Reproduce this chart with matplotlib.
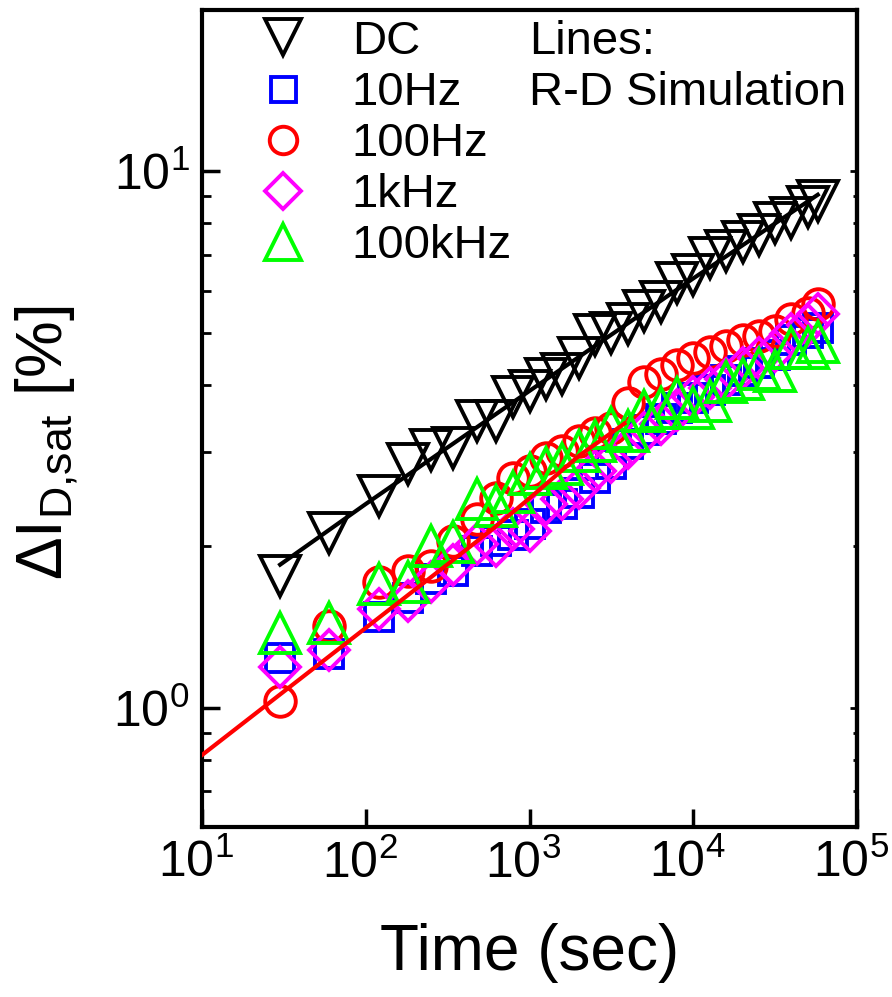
import math
import matplotlib
matplotlib.use("Agg")
import matplotlib.pyplot as plt
import matplotlib.transforms as mtransforms
from matplotlib.ticker import LogLocator, FixedLocator, NullFormatter, FuncFormatter

# time grid of the measurements (sec)
time_s = [30, 60, 120, 180, 250, 340, 480, 620, 790, 1000, 1260, 1580, 2000, 2500,
          3160, 3980, 5010, 6310, 7940, 10000, 12600, 15800, 20000, 25100, 31600,
          39800, 50100, 57600]

dc = [1.76, 2.12, 2.48, 2.85, 3.03, 3.05, 3.42, 3.42, 3.80, 3.90, 4.10, 4.20, 4.50, 4.95,
      5.00, 5.20, 5.50, 5.70, 6.20, 6.40, 6.90, 7.10, 7.40, 7.60, 8.00, 8.20, 8.60, 8.80]
hz10 = [1.24, 1.26, 1.48, 1.60, 1.74, 1.80, 1.96, 2.05, 2.10, 2.20, 2.36, 2.40, 2.52, 2.68,
        2.85, 3.10, 3.30, 3.45, 3.62, 3.78, 3.92, 4.08, 4.25, 4.40, 4.55, 4.85, 5.00, 5.10]
hz100 = [1.03, 1.42, 1.72, 1.80, 1.84, 2.05, 2.25, 2.46, 2.68, 2.76, 2.92, 3.01, 3.15, 3.26,
         3.32, 3.70, 4.06, 4.20, 4.35, 4.50, 4.60, 4.72, 4.85, 4.94, 5.04, 5.32, 5.45, 5.66]
khz1 = [1.19, 1.28, 1.53, 1.58, 1.72, 1.85, 2.02, 2.00, 2.16, 2.14, 2.40, 2.45, 2.57, 2.76,
        2.88, 3.05, 3.25, 3.38, 3.60, 3.80, 3.95, 4.10, 4.30, 4.49, 4.63, 4.97, 5.18, 5.43]
khz100 = [1.38, 1.44, 1.70, 1.72, 2.00, 2.04, 2.45, 2.38, 2.53, 2.73, 2.80, 2.85, 3.01, 3.15,
          3.32, 3.28, 3.57, 3.62, 3.78, 3.62, 3.73, 4.06, 4.11, 4.29, 4.24, 4.68, 4.68, 4.82]

# R-D simulation lines
sim_dc_t = [30, 100, 1000, 10000, 57600]
sim_dc_y = [1.85, 2.40, 3.90, 6.32, 9.05]
sim_ac_t = [10, 30, 100, 300, 600, 1000, 2000, 3800]
sim_ac_y = [0.817, 1.06, 1.41, 1.83, 2.16, 2.46, 2.95, 3.39]

plt.rcParams["font.family"] = ["Liberation Sans", "DejaVu Sans"]

fig = plt.figure(figsize=(8.92, 9.97), dpi=100)
ax = fig.add_axes([202 / 892, 170 / 997, 655 / 892, 817 / 997])

mk = dict(linestyle="none", markerfacecolor="none", markeredgewidth=2.8)
ax.plot(time_s, dc, marker="v", color="black", markersize=29, label="DC", **mk)
ax.plot(time_s, hz10, marker="s", color="#0000ff", markersize=20, label="10Hz", **mk)
ax.plot(time_s, hz100, marker="o", color="#ff0000", markersize=22, label="100Hz", **mk)
ax.plot(time_s, khz1, marker="D", color="#ff00ff", markersize=20, label="1kHz", **mk)
ax.plot(time_s, khz100, marker="^", color="#00ff00", markersize=29, label="100kHz", **mk)

ax.plot(sim_dc_t, sim_dc_y, color="black", linewidth=3, zorder=5)
ax.plot(sim_ac_t, sim_ac_y, color="#ff0000", linewidth=3, zorder=5)

ax.set_xscale("log")
ax.set_yscale("log")
ax.set_xlim(10, 1e5)
ax.set_ylim(0.6, 20)

ax.xaxis.set_major_locator(FixedLocator([1e1, 1e2, 1e3, 1e4, 1e5]))
ax.xaxis.set_minor_locator(LogLocator(base=10, subs=range(2, 10)))
ax.yaxis.set_major_locator(FixedLocator([1, 10]))
ax.yaxis.set_minor_locator(LogLocator(base=10, subs=range(2, 10)))
ax.xaxis.set_minor_formatter(NullFormatter())
ax.yaxis.set_minor_formatter(NullFormatter())


def powfmt(v, pos):
    return r"$\mathregular{10^{%d}}$" % int(round(math.log10(v)))


ax.xaxis.set_major_formatter(FuncFormatter(powfmt))
ax.yaxis.set_major_formatter(FuncFormatter(powfmt))

for s in ax.spines.values():
    s.set_linewidth(3)
ax.tick_params(which="major", direction="in", length=13, width=2.5, pad=9, labelsize=36)
ax.tick_params(which="minor", direction="in", length=6.5, width=2)
ax.tick_params(top=False, right=False)

# x tick labels sit a little left of their ticks
shift = mtransforms.ScaledTranslation(-6 / 100, 0, fig.dpi_scale_trans)
for lab in ax.get_xticklabels():
    lab.set_transform(lab.get_transform() + shift)

sec = ax.secondary_yaxis("right")
sec.tick_params(which="major", direction="in", length=5, width=2, labelright=False)
sec.tick_params(which="minor", direction="in", length=3, width=2)
sec.spines["right"].set_linewidth(3)

ax.set_xlabel("Time (sec)", fontsize=46)
ax.xaxis.set_label_coords(0.5, -0.117)
ax.set_ylabel(r"ΔI$_\mathregular{D{,}sat}$ [%]", fontsize=46)
ax.yaxis.set_label_coords(-0.186, 0.47)

ax.legend(loc="upper left", bbox_to_anchor=(255 / 892, 1 - 20 / 997),
          bbox_transform=fig.transFigure, frameon=False, fontsize=34,
          borderpad=0, borderaxespad=0, handlelength=1.2, handletextpad=0.85,
          labelspacing=0.15, markerscale=0.9)

fig.text(529 / 892, 1 - 20 / 997, "Lines:\nR-D Simulation", fontsize=34,
         va="top", ha="left", linespacing=1.2)

fig.savefig("out.png", dpi=100)
